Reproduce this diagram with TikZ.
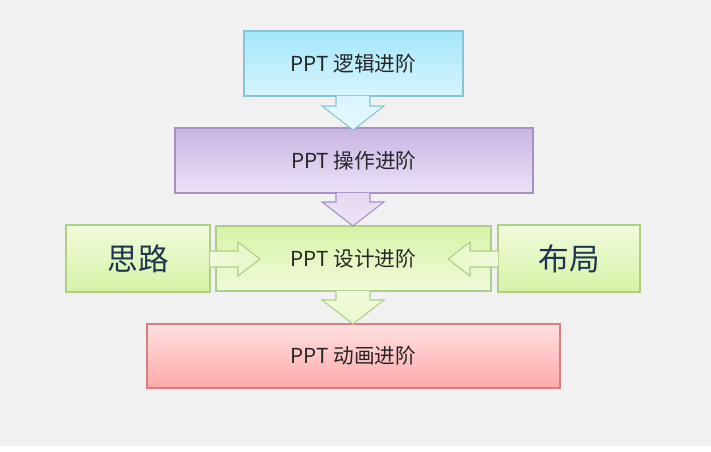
\documentclass[tikz,border=0pt]{standalone}
\usepackage{fontspec}
\setmainfont{Noto Sans CJK SC}
\usetikzlibrary{shadows}
\definecolor{cyT}{HTML}{A3E6FA}\definecolor{cyB}{HTML}{D8F5FD}\definecolor{cyD}{HTML}{86C5D6}
\definecolor{puT}{HTML}{C8B4E2}\definecolor{puB}{HTML}{ECE3F6}\definecolor{puD}{HTML}{A591C4}
\definecolor{grT}{HTML}{D6F3A6}\definecolor{grB}{HTML}{F0FBDB}\definecolor{grD}{HTML}{ADCF86}
\definecolor{reT}{HTML}{FFE0E0}\definecolor{reB}{HTML}{FFA9A9}\definecolor{reD}{HTML}{D88080}
\definecolor{bgc}{HTML}{F1F1F1}\definecolor{txt}{HTML}{1E3550}
\begin{document}
\begin{tikzpicture}[x=0.75pt,y=-0.75pt,
  box/.style={draw=#1, line width=0.8pt, drop shadow={shadow xshift=1pt,shadow yshift=-1pt,opacity=0.25}},
  lbl/.style={font=\fontsize{15.5}{18}\selectfont, text=black!85},
  big/.style={font=\fontsize{23}{26}\selectfont, text=txt},
  arr/.style={draw=#1, line width=0.8pt}]
\fill[white] (0,0) rectangle (711,452);
\fill[bgc] (0,0) rectangle (711,446);
% boxes
\path[box=cyD, top color=cyT, bottom color=cyB] (244,31) rectangle (463,96);
\node[lbl] (a) at (353.5,63.5) {PPT 逻辑进阶};
\path[box=puD, top color=puT, bottom color=puB] (175,128) rectangle (533,193);
\node[lbl] (b) at (354,160.5) {PPT 操作进阶};
\path[box=grD, top color=grT, bottom color=grB] (216,226) rectangle (491,291);
\node[lbl] (c) at (353.5,258.5) {PPT 设计进阶};
\path[box=grD, top color=grB, bottom color=grT] (66,225) rectangle (210,292);
\node[big] (l) at (138,258.5) {思路};
\path[box=grD, top color=grB, bottom color=grT] (498,225) rectangle (640,292);
\node[big] (r) at (569,258.5) {布局};
\path[box=reD, top color=reT, bottom color=reB] (147,324) rectangle (560,388);
\node[lbl] (d) at (353.5,356) {PPT 动画进阶};
% down arrows
\path[arr=cyD, top color=cyB, bottom color=cyB!60!white]
  (336,96) -- (336,106) -- (322,106) -- (353,130) -- (384,106) -- (370,106) -- (370,96);
\path[arr=puD, top color=puB!80!puT, bottom color=puB]
  (336,193) -- (336,202) -- (322,202) -- (353,226) -- (384,202) -- (370,202) -- (370,193);
\path[arr=grD, top color=grB, bottom color=grB!70!grT]
  (336,291) -- (336,300) -- (322,300) -- (353,324) -- (384,300) -- (370,300) -- (370,291);
% side arrows
\path[arr=grD, left color=grB, right color=grB!60!grT]
  (210,251) -- (238,251) -- (238,242) -- (260,259) -- (238,276) -- (238,267) -- (210,267);
\path[arr=grD, right color=grB, left color=grB!60!grT]
  (498,251) -- (470,251) -- (470,242) -- (448,259) -- (470,276) -- (470,267) -- (498,267);
\end{tikzpicture}
\end{document}
